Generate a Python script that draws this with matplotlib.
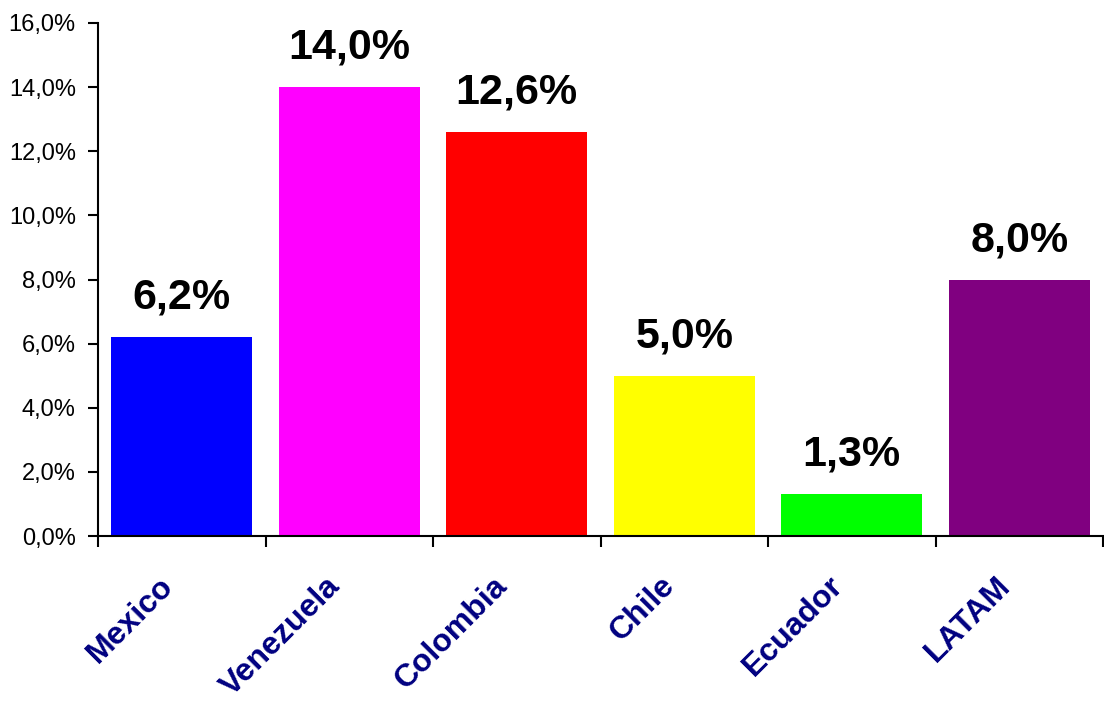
import numpy as np
import matplotlib.pyplot as plt
import matplotlib.transforms as mtransforms
from matplotlib.ticker import FuncFormatter

paises = ['Mexico', 'Venezuela', 'Colombia', 'Chile', 'Ecuador', 'LATAM']
valores = [6.2, 14.0, 12.6, 5.0, 1.3, 8.0]
colores = ['#0000FF', '#FF00FF', '#FF0000', '#FFFF00', '#00FF00', '#800080']
yticks = [0, 2, 4, 6, 8, 10, 12, 14, 16]

plt.rcParams['font.family'] = ['Liberation Sans', 'DejaVu Sans']

fig = plt.figure(figsize=(11.04, 7.02), dpi=100)
ax = fig.add_axes([98 / 1104, 1 - 536 / 702, 1005 / 1104, 513 / 702])

x = np.arange(len(paises))
bars = ax.bar(x, valores, width=0.84, color=colores)

for b, v in zip(bars, valores):
    ax.annotate(f'{v:.1f}%'.replace('.', ','), (b.get_x() + b.get_width() / 2, v),
                xytext=(0, 14), textcoords='offset points', ha='center', va='bottom',
                fontsize=31, fontweight='bold', color='black')

ax.set_xlim(-0.5, len(paises) - 0.5)
ax.set_ylim(0, 16)
ax.set_yticks(yticks)
ax.yaxis.set_major_formatter(FuncFormatter(lambda v, p: f'{v:.1f}%'.replace('.', ',')))
ax.tick_params(axis='y', direction='out', length=7, width=1.5, labelsize=17, pad=9)

ax.set_xticks(np.arange(len(paises) + 1) - 0.5)
ax.set_xticklabels([])
ax.tick_params(axis='x', which='major', direction='out', length=8, width=1.5)
ax.set_xticks(x, minor=True)
ax.set_xticklabels(paises, minor=True, rotation=45, ha='right', rotation_mode='anchor',
                   fontsize=23, fontweight='bold', color='#000080')
ax.tick_params(axis='x', which='minor', length=0, pad=25)
desplaz = mtransforms.ScaledTranslation(-0.24, 0.0, fig.dpi_scale_trans)
for lbl in ax.xaxis.get_minorticklabels():
    lbl.set_transform(lbl.get_transform() + desplaz)

for s in ['top', 'right']:
    ax.spines[s].set_visible(False)
for s in ['left', 'bottom']:
    ax.spines[s].set_linewidth(1.5)

fig.savefig('out.png', dpi=100)
